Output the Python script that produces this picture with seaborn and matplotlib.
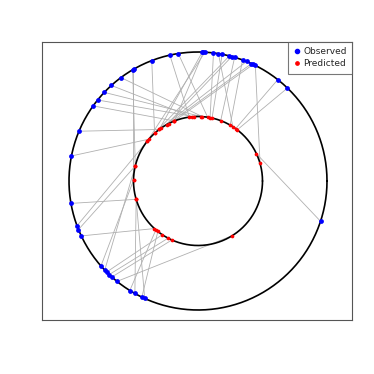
import numpy as np
import pandas as pd
import matplotlib
matplotlib.use("Agg")
import matplotlib.pyplot as plt
import seaborn as sns
from matplotlib.lines import Line2D

# angles in degrees (counter-clockwise from east)
observed_deg = [102.6, 98.8, 88.1, 87.6, 86.9, 83.1, 80.9, 79.2, 75.9, 74.8,
                73.5, 69.8, 67.9, 65.5, 64.7, 63.6, 51.8, 46.1, -18.2, 111.0,
                120.4, 120.0, 126.7, 132.2, 136.6, 141.1, 144.4, 157.3, 168.8, 190.0,
                200.3, 202.1, 205.2, 221.2, 223.7, 224.9, 226.5, 228.1, 231.1, 238.1,
                240.7, 244.2, 245.6]
predicted_deg = [97.7, 81.4, 127.0, 111.4, 142.2, 79.2, 57.3, 77.4, 132.3, 119.1,
                 69.4, 60.1, 125.2, 117.1, 111.4, 15.8, 54.3, 52.5, 25.0, 132.3,
                 166.6, 179.4, 86.1, 95.7, 87.0, 93.6, 111.4, 127.0, 139.6, 196.5,
                 142.2, 166.6, 227.5, 179.4, 166.6, 236.4, 242.4, 246.1, 302.0, 229.2,
                 196.5, 231.5, 196.5]

R_OUT = 1.0
R_IN = 0.5

sns.set_style("white")
fig = plt.figure(figsize=(3.74, 3.74), dpi=100)
ax = fig.add_axes([42/374, 1-320/374, 310/374, 278/374])

obs = np.deg2rad(np.array(observed_deg))
pred = np.deg2rad(np.array(predicted_deg))
ox, oy = R_OUT*np.cos(obs), R_OUT*np.sin(obs)
px, py = R_IN*np.cos(pred), R_IN*np.sin(pred)

for i in range(len(obs)):
    ax.plot([ox[i], px[i]], [oy[i], py[i]], color="#B0B0B0", lw=0.6, zorder=1)

t = np.linspace(0, 2*np.pi, 400)
ax.plot(R_OUT*np.cos(t), R_OUT*np.sin(t), color="black", lw=1.2, zorder=2)
ax.plot(R_IN*np.cos(t), R_IN*np.sin(t), color="black", lw=1.2, zorder=2)

df_obs = pd.DataFrame({"x": ox, "y": oy})
df_pred = pd.DataFrame({"x": px, "y": py})
sns.scatterplot(data=df_obs, x="x", y="y", color="#0000FF", s=12, linewidth=0,
                ax=ax, zorder=3)
sns.scatterplot(data=df_pred, x="x", y="y", color="#FF0000", s=7, linewidth=0,
                ax=ax, zorder=4)

ax.set_xlim((42-198)/129, (352-198)/129)
ax.set_ylim(-139/129, 139/129)
ax.set_xticks([]); ax.set_yticks([])
ax.set_xlabel(""); ax.set_ylabel("")
for sp in ax.spines.values():
    sp.set_color("#555555")
    sp.set_linewidth(0.8)

handles = [Line2D([], [], marker="o", ls="", color="#0000FF", markersize=3.0),
           Line2D([], [], marker="o", ls="", color="#FF0000", markersize=2.4)]
leg = ax.legend(handles, ["Observed", "Predicted"], loc="upper right",
                fontsize=6.5, frameon=True, fancybox=False, borderpad=0.6,
                handletextpad=0.3, handlelength=0.8, borderaxespad=0,
                labelspacing=0.3)
leg.get_frame().set_edgecolor("#555555")
leg.get_frame().set_linewidth(0.8)

fig.savefig("out.png", dpi=100)
